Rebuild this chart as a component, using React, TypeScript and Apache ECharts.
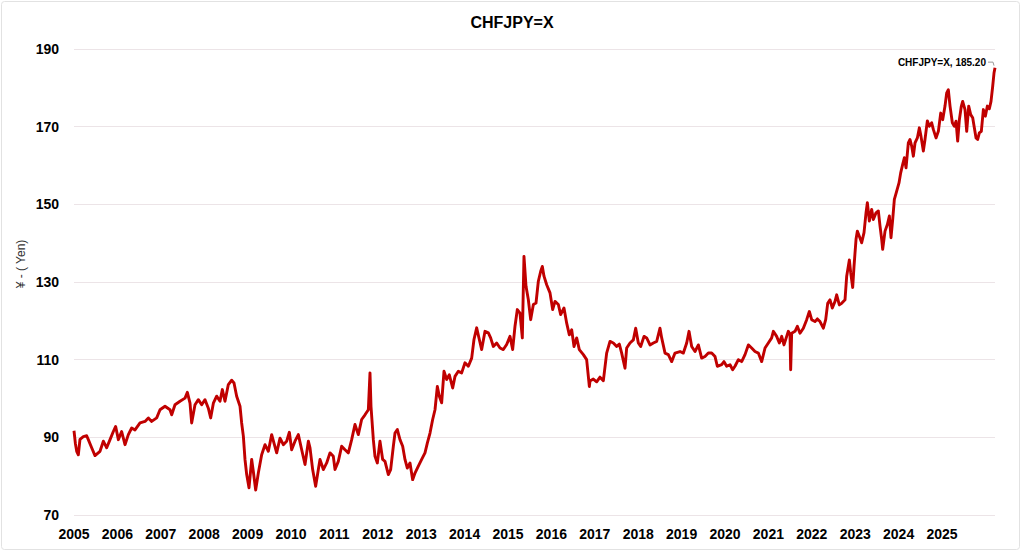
import React, { useEffect, useRef } from 'react';
import * as echarts from 'echarts';

const TITLE = 'CHFJPY=X';
const Y_NAME = '¥ - ( Yen)';
const yearTicks = [2005, 2006, 2007, 2008, 2009, 2010, 2011, 2012, 2013, 2014, 2015, 2016, 2017, 2018, 2019, 2020, 2021, 2022, 2023, 2024, 2025];
const yTicks = [70, 90, 110, 130, 150, 170, 190];

// x positions on the chart's year axis
const t = [
  2005.000, 2005.031, 2005.062, 2005.100, 2005.138, 2005.215, 2005.292, 2005.330, 2005.407, 2005.484,
  2005.599, 2005.676, 2005.753, 2005.830, 2005.906, 2005.960, 2006.022, 2006.098, 2006.175, 2006.252,
  2006.329, 2006.406, 2006.521, 2006.636, 2006.713, 2006.790, 2006.905, 2006.982, 2007.097, 2007.212,
  2007.251, 2007.327, 2007.443, 2007.558, 2007.612, 2007.673, 2007.711, 2007.788, 2007.865, 2007.942,
  2008.019, 2008.095, 2008.149, 2008.211, 2008.287, 2008.364, 2008.418, 2008.479, 2008.556, 2008.633,
  2008.687, 2008.748, 2008.825, 2008.863, 2008.902, 2008.940, 2008.979, 2009.032, 2009.094, 2009.132,
  2009.186, 2009.247, 2009.324, 2009.401, 2009.478, 2009.555, 2009.608, 2009.670, 2009.747, 2009.823,
  2009.900, 2009.962, 2010.015, 2010.092, 2010.169, 2010.246, 2010.323, 2010.400, 2010.438, 2010.499,
  2010.568, 2010.630,
  2010.668, 2010.745, 2010.822, 2010.898, 2010.975, 2011.014, 2011.090, 2011.167, 2011.244, 2011.321,
  2011.398, 2011.474, 2011.551, 2011.628, 2011.705, 2011.782, 2011.820, 2011.843, 2011.897, 2011.935,
  2011.989, 2012.050, 2012.112, 2012.166, 2012.243, 2012.296, 2012.358, 2012.396, 2012.450, 2012.511,
  2012.573, 2012.626, 2012.680, 2012.742, 2012.803, 2012.857, 2012.934, 2013.011, 2013.087, 2013.141,
  2013.203, 2013.264, 2013.318, 2013.372, 2013.418, 2013.471, 2013.525, 2013.587, 2013.648, 2013.725,
  2013.779, 2013.855, 2013.932, 2014.009, 2014.086, 2014.163, 2014.216, 2014.278, 2014.339, 2014.393,
  2014.470, 2014.547, 2014.600, 2014.662, 2014.739, 2014.816, 2014.892, 2014.969, 2015.046, 2015.107,
  2015.161, 2015.215, 2015.276, 2015.330, 2015.368, 2015.415, 2015.468, 2015.522, 2015.584, 2015.645,
  2015.699, 2015.752, 2015.791, 2015.829, 2015.891, 2015.968, 2016.029, 2016.083, 2016.160, 2016.213,
  2016.290, 2016.352, 2016.413, 2016.467, 2016.521, 2016.582, 2016.643, 2016.736, 2016.812, 2016.874,
  2016.889, 2016.966, 2017.043, 2017.120, 2017.197, 2017.273, 2017.350, 2017.427, 2017.504, 2017.565,
  2017.619, 2017.696, 2017.734, 2017.811, 2017.888, 2017.942, 2018.003, 2018.057, 2018.134, 2018.195,
  2018.272, 2018.349, 2018.426, 2018.502, 2018.541, 2018.618, 2018.694, 2018.771, 2018.848, 2018.963,
  2019.040, 2019.117, 2019.171, 2019.232, 2019.309, 2019.386, 2019.462, 2019.539, 2019.616, 2019.693,
  2019.770, 2019.823, 2019.923, 2019.977, 2020.038, 2020.115, 2020.177, 2020.230, 2020.307, 2020.384,
  2020.461, 2020.538, 2020.614, 2020.691, 2020.768, 2020.845, 2020.922, 2020.998, 2021.075, 2021.114,
  2021.190, 2021.252, 2021.306, 2021.359, 2021.421, 2021.459, 2021.498, 2021.513, 2021.536, 2021.613,
  2021.667, 2021.728, 2021.805, 2021.882, 2021.943, 2021.997, 2022.074, 2022.128, 2022.189, 2022.266,
  2022.320, 2022.366, 2022.419, 2022.473, 2022.535, 2022.573, 2022.634, 2022.688, 2022.765, 2022.803,
  2022.865,
  2022.896, 2022.942, 2022.973, 2023.019, 2023.049, 2023.095, 2023.149, 2023.203, 2023.249, 2023.280,
  2023.326, 2023.380, 2023.418, 2023.479, 2023.533, 2023.572, 2023.610, 2023.633, 2023.687, 2023.741,
  2023.787, 2023.825, 2023.864, 2023.902, 2023.956, 2024.009, 2024.048, 2024.094, 2024.132, 2024.171,
  2024.224, 2024.263, 2024.301, 2024.340, 2024.378, 2024.432, 2024.478, 2024.516, 2024.570, 2024.608,
  2024.662, 2024.708, 2024.762, 2024.800, 2024.862, 2024.916, 2024.970, 2025.016, 2025.069, 2025.108,
  2025.146, 2025.185, 2025.238, 2025.284, 2025.323, 2025.361, 2025.400, 2025.446, 2025.476, 2025.530,
  2025.569, 2025.615, 2025.661, 2025.707, 2025.745, 2025.784, 2025.822, 2025.860, 2025.906, 2025.953,
  2025.999, 2026.045, 2026.091, 2026.129, 2026.168, 2026.198, 2026.221,
];

const chfjpy = [
  91.7, 88.5, 86.4, 85.5, 89.5, 90.2, 90.4, 89.4, 87.3, 85.3,
  86.4, 89.0, 87.3, 89.4, 91.5, 92.8, 89.4, 91.5, 88.1, 90.7,
  92.4, 91.9, 93.7, 94.1, 95.0, 94.1, 95.0, 97.1, 98.0, 97.1,
  95.8, 98.4, 99.3, 100.1, 101.6, 98.8, 93.7, 98.4, 99.7, 98.4,
  99.7, 97.5, 95.0, 98.8, 100.6, 99.3, 102.3, 99.3, 103.6, 104.7,
  104.0, 100.6, 98.0, 93.7, 90.3, 84.3, 80.4, 77.0, 84.3, 81.2,
  76.4, 80.8, 85.5, 88.1, 86.4, 90.7, 88.5, 86.0, 89.8, 88.1,
  89.0, 91.3, 86.8, 89.0, 90.7, 86.8, 83.0, 89.0, 87.3, 81.7,
  77.4, 81.7,
  84.3, 81.7, 83.4, 86.0, 85.1, 81.7, 83.8, 87.7, 86.8, 86.0,
  89.4, 93.3, 90.7, 94.6, 95.8, 97.1, 106.6, 98.0, 89.4, 85.1,
  83.4, 89.0, 84.3, 83.8, 80.4, 81.7, 87.7, 91.1, 92.0, 89.4,
  87.7, 84.3, 82.1, 83.4, 79.1, 80.8, 82.6, 84.3, 86.0, 88.5,
  91.1, 94.6, 97.1, 103.1, 100.6, 98.9, 107.0, 104.9, 106.1, 102.7,
  105.7, 107.0, 106.6, 109.2, 108.3, 110.4, 115.2, 118.2, 115.2, 112.6,
  117.3, 116.9, 115.6, 113.4, 114.3, 113.0, 112.6, 113.9, 116.0, 112.6,
  118.6, 122.9, 122.0, 115.6, 136.6, 128.9, 125.5, 120.3, 124.2, 124.6,
  130.2, 132.7, 134.0, 131.5, 129.3, 127.2, 122.9, 125.0, 124.2, 121.6,
  123.3, 119.4, 116.4, 117.7, 113.4, 115.6, 112.6, 111.3, 110.0, 103.1,
  104.5, 105.0, 104.3, 105.5, 104.6, 111.7, 114.7, 114.3, 113.4, 114.0,
  111.7, 107.8, 113.0, 114.3, 115.1, 118.1, 114.3, 113.4, 116.0, 115.6,
  113.8, 114.3, 114.7, 118.1, 115.6, 111.7, 111.3, 109.5, 111.7, 112.1,
  111.7, 114.3, 117.3, 113.4, 112.1, 113.8, 110.4, 110.8, 111.7, 111.7,
  110.8, 108.3, 108.7, 109.5, 108.3, 108.7, 107.4, 108.3, 110.0, 109.5,
  111.3, 113.8, 113.0, 112.1, 111.7, 109.5, 113.0, 114.3, 115.6, 117.3,
  116.0, 114.3, 116.0, 113.8, 116.0, 117.3, 116.5, 107.4, 116.8, 117.3,
  118.6, 116.8, 118.1, 120.3, 122.4, 120.3, 119.8, 120.5, 119.8, 118.1,
  120.3, 124.5, 125.4, 123.3, 125.0, 126.7, 124.1, 124.5, 125.4, 131.4,
  135.7,
  132.4, 128.6, 134.1, 141.0, 143.1, 141.8, 140.1, 142.7, 147.8, 150.4,
  145.7, 148.7, 146.1, 147.8, 148.3, 144.4, 141.0, 138.4, 143.1, 144.8,
  147.0, 141.4, 146.1, 151.3, 153.4, 155.5, 158.1, 160.3, 162.0, 159.4,
  165.8, 166.7, 165.0, 162.4, 165.8, 167.1, 169.7, 167.5, 163.7, 166.7,
  171.5, 170.1, 171.0, 169.3, 167.1, 168.8, 173.5, 171.8, 175.3, 178.7,
  179.5, 175.3, 171.0, 170.1, 171.4, 166.3, 171.8, 175.3, 176.5, 174.4,
  168.8, 175.3, 173.1, 172.3, 169.7, 167.1, 166.7, 168.4, 168.8, 174.4,
  172.7, 175.3, 174.6, 176.5, 180.4, 183.8, 185.2,
];

const FONT = '"Liberation Sans", Arial, Helvetica, sans-serif';

export default function App() {
  const ref = useRef<HTMLDivElement>(null);

  useEffect(() => {
    if (!ref.current) return;
    const chart = echarts.init(ref.current, null, { renderer: 'svg' });
    const data = t.map((x, i) => [x, chfjpy[i]]);
    const xMin = yearTicks[0];
    const xMax = t[t.length - 1];

    chart.setOption({
      animation: false,
      backgroundColor: '#ffffff',
      textStyle: { fontFamily: FONT },
      title: {
        text: TITLE,
        left: 'center',
        top: 9,
        textStyle: { fontFamily: FONT, fontWeight: 'bold', fontSize: 16, color: '#000' },
      },
      grid: { left: 74, right: 29, top: 49, bottom: 38, containLabel: false },
      xAxis: {
        type: 'value',
        min: xMin,
        max: xMax,
        interval: 1,
        axisLine: { show: false },
        axisTick: { show: false },
        splitLine: { show: false },
        axisLabel: {
          margin: 12,
          showMaxLabel: false,
          fontFamily: FONT,
          fontWeight: 'bold',
          fontSize: 14,
          color: '#000',
          formatter: (v: number) => (yearTicks.indexOf(Math.round(v)) >= 0 && Math.abs(v - Math.round(v)) < 1e-6 ? String(Math.round(v)) : ''),
        },
      },
      yAxis: {
        type: 'value',
        min: yTicks[0],
        max: yTicks[yTicks.length - 1],
        interval: 20,
        axisLine: { show: false },
        axisTick: { show: false },
        splitLine: { lineStyle: { color: '#ece4e7', width: 1 } },
        axisLabel: { margin: 15, fontFamily: FONT, fontWeight: 'bold', fontSize: 14, color: '#000' },
      },
      series: [
        {
          type: 'line',
          name: TITLE,
          data,
          symbol: 'none',
          showSymbol: false,
          lineStyle: { color: '#c00000', width: 2.9, join: 'round' },
          itemStyle: { color: '#c00000' },
          z: 3,
        },
      ],
    });

    const lastX = t[t.length - 1];
    const lastY = chfjpy[chfjpy.length - 1];
    const p = chart.convertToPixel({ gridIndex: 0 }, [lastX, lastY]) as number[];
    const ly = p[1] - 5.5;

    chart.setOption({
      graphic: [
        {
          type: 'rect',
          silent: true,
          z: -10,
          shape: { x: 1.5, y: 1.5, width: 1018, height: 548, r: 3 },
          style: { fill: 'none', stroke: '#e2e2e2', lineWidth: 1 },
        },
        {
          type: 'text',
          x: 21,
          y: 264,
          rotation: Math.PI / 2,
          style: {
            text: Y_NAME,
            fontFamily: FONT,
            fontSize: 12,
            fill: '#333',
            align: 'center',
            verticalAlign: 'middle',
          },
        },
        {
          type: 'text',
          x: p[0] - 9,
          y: ly,
          z: 10,
          style: {
            text: `${TITLE}, ${lastY.toFixed(2)}`,
            fontFamily: FONT,
            fontWeight: 'bold',
            fontSize: 10,
            fill: '#000',
            align: 'right',
            verticalAlign: 'middle',
          },
        },
        {
          type: 'polyline',
          z: 10,
          silent: true,
          shape: { points: [[p[0] - 7, ly], [p[0] - 2, ly], [p[0] - 1, p[1] - 2]] },
          style: { stroke: '#999', lineWidth: 1, fill: 'none' },
        },
      ],
    });

    return () => {
      chart.dispose();
    };
  }, []);

  return (
    <div
      ref={ref}
      style={{ position: 'fixed', left: 0, top: 0, width: 1024, height: 553, background: '#fff' }}
    />
  );
}
